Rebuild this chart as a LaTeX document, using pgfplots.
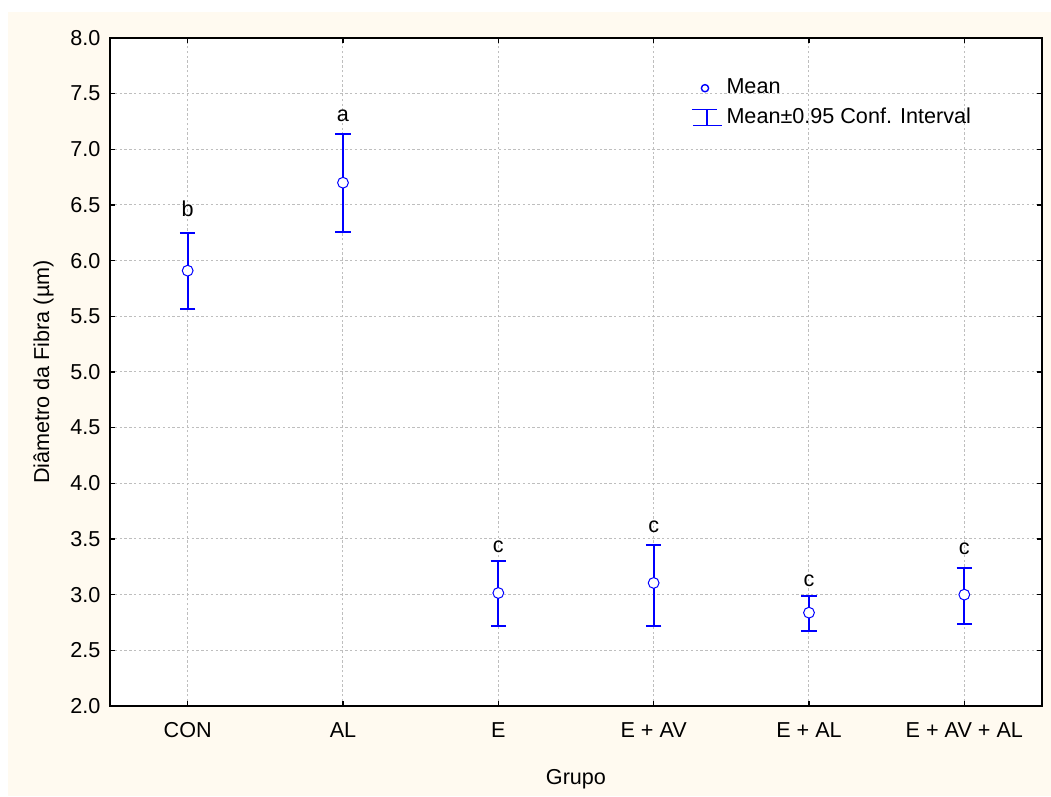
\documentclass[border=0pt]{standalone}
\usepackage{pgfplots}
\pgfplotsset{compat=1.18}
\usepackage{pgfplotstable}
\usepackage{fontspec}
\setmainfont{Liberation Sans}

\definecolor{cream}{RGB}{255,250,240}
\definecolor{gridgray}{RGB}{190,190,190}

% group, mean, upper and lower limit of the 95% interval
\pgfplotstableread{
x mean hi lo
1 5.910 6.246 5.569
2 6.700 7.135 6.255
3 3.015 3.302 2.717
4 3.105 3.446 2.717
5 2.838 2.988 2.674
6 3.000 3.237 2.737
}\ci

% letters above the groups (baseline height)
\pgfplotstableread{
x y lab
1 6.401 b
2 7.254 a
3 3.383 c
4 3.554 c
5 3.069 c
6 3.365 c
}\letters

\begin{document}
\begin{tikzpicture}
\fontsize{10.8}{13}\selectfont
% page and cream backdrop (1px = 0.5pt)
\fill[white] (-55pt,19pt) rectangle (470.5pt,-379pt);
\fill[cream] (-51pt,13pt) rectangle (470.5pt,-379pt);
\begin{axis}[
    at={(0pt,0pt)}, anchor=north west,
    scale only axis,
    width=466pt, height=334pt,
    xmin=0.5, xmax=6.5,
    ymin=2, ymax=8,
    xtick={1,...,6},
    xticklabels={CON, AL, E, E + AV, E + AL, E + AV + AL},
    ytick={2,2.5,...,8},
    yticklabel style={/pgf/number format/fixed, /pgf/number format/fixed zerofill,
        /pgf/number format/precision=1, xshift=-1pt},
    /pgf/number format/assume math mode=true,
    tick align=inside,
    major tick length=2.5pt,
    tick style={black, line width=0.8pt},
    axis line style={line width=1.1pt},
    axis background/.style={fill=white},
    grid=major,
    major grid style={gridgray, line width=0.5pt, dash pattern=on 1.2pt off 1.2pt},
    xlabel={Grupo},
    ylabel={Diâmetro da Fibra (µm)},
    xlabel style={yshift=-8.5pt},
    ylabel style={yshift=1pt},
    xticklabel style={yshift=-4.5pt},
    ticklabel style={font=\fontsize{10.8}{13}\selectfont},
    label style={font=\fontsize{10.8}{13}\selectfont},
    legend style={at={(0.6235,0.945)}, anchor=north west, draw=none, fill=none,
        font=\fontsize{10.8}{13}\selectfont, row sep=1.5pt, inner sep=0pt},
    legend cell align=left,
]
% error bars only
\addplot[only marks, mark=none, forget plot,
    error bars/.cd, y dir=both, y explicit,
    error bar style={blue, line width=1pt},
    error mark options={blue, line width=1pt, mark size=3.9pt, rotate=90}]
    table[x=x, y=mean,
          y error plus expr=\thisrow{hi}-\thisrow{mean},
          y error minus expr=\thisrow{mean}-\thisrow{lo}] {\ci};
% means
\addplot[only marks, mark=*, mark size=2.7pt,
    mark options={draw=blue, fill=white, line width=0.5pt},
    legend image code/.code={
        \draw[blue, fill=white, line width=0.7pt] (4.5pt,0pt) circle (1.8pt);}]
    table[x=x, y=mean] {\ci};
\addlegendentry{Mean}
\addlegendimage{legend image code/.code={
    \draw[blue, line width=0.5pt] (-2pt,4pt) -- (10.5pt,4pt);
    \draw[blue, line width=0.5pt] (5.5pt,4pt) -- (5.5pt,-4pt);
    \draw[blue, line width=0.5pt] (-1.5pt,-4pt) -- (13pt,-4pt);
}}
\addlegendentry{Mean±0.95 Conf. Interval}
% group letters
\addplot[only marks, mark=none, forget plot,
    nodes near coords, point meta=explicit symbolic,
    every node near coord/.append style={anchor=base, inner sep=0pt, yshift=0pt, black,
        font=\fontsize{10.8}{13}\selectfont}]
    table[x=x, y=y, meta=lab] {\letters};
\end{axis}
\end{tikzpicture}
\end{document}
